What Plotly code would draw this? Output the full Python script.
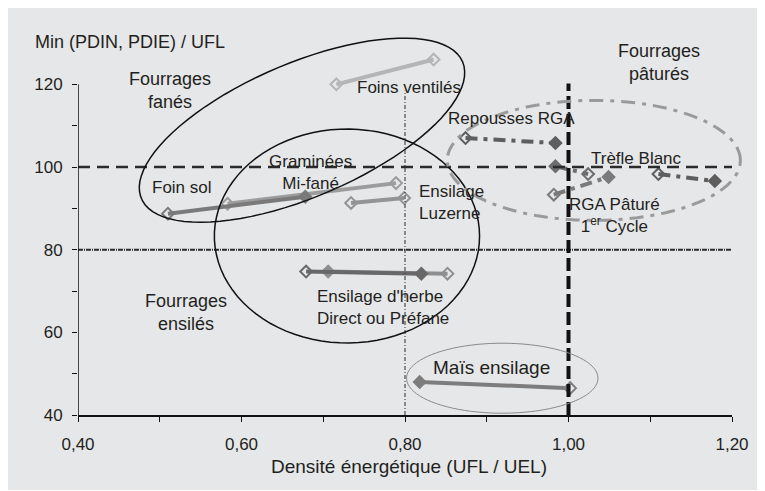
import numpy as np
import plotly.graph_objects as go

# ---- data ----
foins_ventiles_x = [0.716, 0.835]
foins_ventiles_y = [120.0, 126.0]
foin_sol_x = [0.510, 0.678]
foin_sol_y = [88.7, 92.8]
graminees_x = [0.583, 0.789]
graminees_y = [91.1, 96.1]
luzerne_x = [0.734, 0.799]
luzerne_y = [91.3, 92.5]
herbe_direct_x = [0.679, 0.820]
herbe_direct_y = [74.7, 74.2]
herbe_prefane_x = [0.706, 0.852]
herbe_prefane_y = [74.7, 74.2]
mais_x = [0.818, 1.002]
mais_y = [48.0, 46.5]
repousses_x = [0.874, 0.984]
repousses_y = [107.0, 105.8]
rga1_x = [0.984, 1.024]
rga1_y = [100.2, 98.3]
rga2_x = [0.982, 1.049]
rga2_y = [93.3, 97.6]
trefle_x = [1.110, 1.179]
trefle_y = [98.3, 96.6]

x_ticks = [0.4, 0.5, 0.6, 0.7, 0.8, 0.9, 1.0, 1.1, 1.2]
x_labels = ['0,40', '', '0,60', '', '0,80', '', '1,00', '', '1,20']
y_ticks = [40, 50, 60, 70, 80, 90, 100, 110, 120]
y_labels = ['40', '', '60', '', '80', '', '100', '', '120']

# ---- layout constants ----
# the page body adds an 8px margin, so the figure is a bit smaller
W, H = 753, 482
ML, MR, MT, MB = 70, 27, 35, 75
PW, PH = W - ML - MR, H - MT - MB
SX0, SY0 = 78, 415          # screen position of the plot origin
XR = [0.4, 1.2]
YR = [40, 130]
BG = '#e6e7e9'
TXT = '#231f20'
FONT = 'Liberation Sans, Arial, sans-serif'


def to_paper(x, y):
    return (x - XR[0]) / (XR[1] - XR[0]), (y - YR[0]) / (YR[1] - YR[0])


def ellipse_path(cx, cy, rx, ry, angle=0, n=90):
    # rx, ry in pixels, rotation in screen space
    px0, py0 = to_paper(cx, cy)
    a = np.radians(angle)
    t = np.linspace(0, 2 * np.pi, n)
    dx, dy = rx * np.cos(t), ry * np.sin(t)
    X = dx * np.cos(a) - dy * np.sin(a)
    Y = dx * np.sin(a) + dy * np.cos(a)
    pts = ['%.4f,%.4f' % (px0 + xx / PW, py0 + yy / PH) for xx, yy in zip(X, Y)]
    return 'M' + ' L'.join(pts) + ' Z'


fig = go.Figure()

series = [
    (foins_ventiles_x, foins_ventiles_y, '#b5b5b5', None, ['diamond-open', 'diamond-open']),
    (graminees_x, graminees_y, '#9c9c9c', None, ['diamond-open', 'diamond-open']),
    (foin_sol_x, foin_sol_y, '#7a7a7a', None, ['diamond-open', 'diamond']),
    (luzerne_x, luzerne_y, '#949494', None, ['diamond-open', 'diamond-open']),
    (herbe_prefane_x, herbe_prefane_y, '#8e8e8e', None, ['diamond', 'diamond-open']),
    (herbe_direct_x, herbe_direct_y, '#686868', None, ['diamond-open', 'diamond']),
    (mais_x, mais_y, '#7d7d7d', None, ['diamond', 'diamond-open']),
    (repousses_x, repousses_y, '#5e5e5e', '12px,6px,4px,6px', ['diamond-open', 'diamond']),
    (rga1_x, rga1_y, '#6e6e6e', '12px,6px,4px,6px', ['diamond', 'diamond-open']),
    (rga2_x, rga2_y, '#7a7a7a', '12px,6px,4px,6px', ['diamond-open', 'diamond']),
    (trefle_x, trefle_y, '#5e5e5e', '12px,6px,4px,6px', ['diamond-open', 'diamond']),
]
for xs, ys, col, dash, syms in series:
    fig.add_trace(go.Scatter(
        x=xs, y=ys, mode='lines+markers', cliponaxis=False,
        line=dict(color=col, width=4, dash=dash),
        marker=dict(symbol=syms, size=9, color=col, line=dict(color=col, width=2)),
        hoverinfo='skip'
    ))

shapes = []
# reference lines
shapes.append(dict(type='line', xref='x', yref='y', x0=0.4, x1=1.2, y0=100, y1=100,
                   line=dict(color='#2b2b2b', width=2.5, dash='12px,7px')))
shapes.append(dict(type='line', xref='x', yref='y', x0=0.4, x1=1.2, y0=80, y1=80,
                   line=dict(color='#2b2b2b', width=2, dash='5px,1px,1px,1px')))
shapes.append(dict(type='line', xref='x', yref='y', x0=0.8, x1=0.8, y0=40, y1=118.5,
                   line=dict(color='#2b2b2b', width=1, dash='4px,2px,1px,2px')))
shapes.append(dict(type='line', xref='x', yref='y', x0=1.0, x1=1.0, y0=40, y1=120.2,
                   line=dict(color='#111111', width=4, dash='13px,5px')))
# y axis line (only up to 120)
shapes.append(dict(type='line', xref='x', yref='y', x0=0.4, x1=0.4, y0=40, y1=120,
                   line=dict(color='#111111', width=1.5)))
# group ellipses
shapes.append(dict(type='path', xref='paper', yref='paper',
                   path=ellipse_path(0.674, 108.9, 175, 67, 23),
                   line=dict(color='#111111', width=1.5)))
shapes.append(dict(type='path', xref='paper', yref='paper',
                   path=ellipse_path(0.729, 83.3, 133, 107, 0),
                   line=dict(color='#111111', width=1.5)))
shapes.append(dict(type='path', xref='paper', yref='paper',
                   path=ellipse_path(0.919, 48.9, 96, 35, 0),
                   line=dict(color='#8a8a8a', width=1)))
shapes.append(dict(type='path', xref='paper', yref='paper',
                   path=ellipse_path(1.031, 101.6, 147, 60, 0),
                   line=dict(color='#9a9a9a', width=3, dash='14px,7px,4px,7px')))


def note(text, x, y, size=17, xanchor='center', align='center'):
    return dict(text=text, x=x, y=y, xref='x', yref='y', showarrow=False,
                xanchor=xanchor, yanchor='middle', align=align,
                font=dict(size=size, color=TXT, family=FONT))


annotations = [
    note('Fourrages<br>fanés', 0.513, 118.5, 18),
    note('Foins ventilés', 0.805, 119.3),
    note('Graminées<br>Mi-fané', 0.684, 98.7),
    note('Foin sol', 0.527, 95.1),
    note('Ensilage<br>Luzerne', 0.815, 91.4, xanchor='left', align='left'),
    note('Repousses RGA', 0.930, 111.8),
    note('Trèfle Blanc', 1.083, 102.1),
    note('RGA Pâturé<br>1<sup>er</sup> Cycle', 1.056, 88.3),
    note('Fourrages<br>pâturés', 1.111, 125.2, 18),
    note('Fourrages<br>ensilés', 0.532, 64.9, 18),
    note("Ensilage d'herbe<br>Direct ou Préfane", 0.690, 65.9, xanchor='left', align='left'),
    note('Maïs ensilage', 0.906, 51.6, 19),
    dict(text='Min (PDIN, PDIE) / UFL', x=(33 - SX0) / PW, y=(SY0 - 42) / PH,
         xref='paper', yref='paper', showarrow=False, xanchor='left', yanchor='middle',
         font=dict(size=18, color=TXT, family=FONT)),
    dict(text='Densité énergétique (UFL / UEL)', x=(410 - SX0) / PW, y=(SY0 - 467) / PH,
         xref='paper', yref='paper', showarrow=False, xanchor='center', yanchor='middle',
         font=dict(size=19, color=TXT, family=FONT)),
]

fig.update_layout(
    width=W, height=H,
    margin=dict(l=ML, r=MR, t=MT, b=MB, pad=0),
    paper_bgcolor=BG, plot_bgcolor=BG,
    showlegend=False,
    font=dict(family=FONT, color=TXT, size=17),
    xaxis=dict(range=XR, showgrid=False, zeroline=False, showline=True,
               linecolor='#111111', linewidth=1.5,
               tickvals=x_ticks, ticktext=x_labels, ticks='outside', ticklen=5,
               tickcolor='#111111', tickwidth=1, ticklabelstandoff=8,
               tickfont=dict(size=17, color=TXT)),
    yaxis=dict(range=YR, showgrid=False, zeroline=False, showline=False,
               tickvals=y_ticks, ticktext=y_labels, ticks='outside', ticklen=5,
               tickcolor='#111111', tickwidth=1, ticklabelstandoff=6,
               tickfont=dict(size=17, color=TXT)),
    shapes=shapes,
    annotations=annotations,
)

fig.write_html("out.html")
